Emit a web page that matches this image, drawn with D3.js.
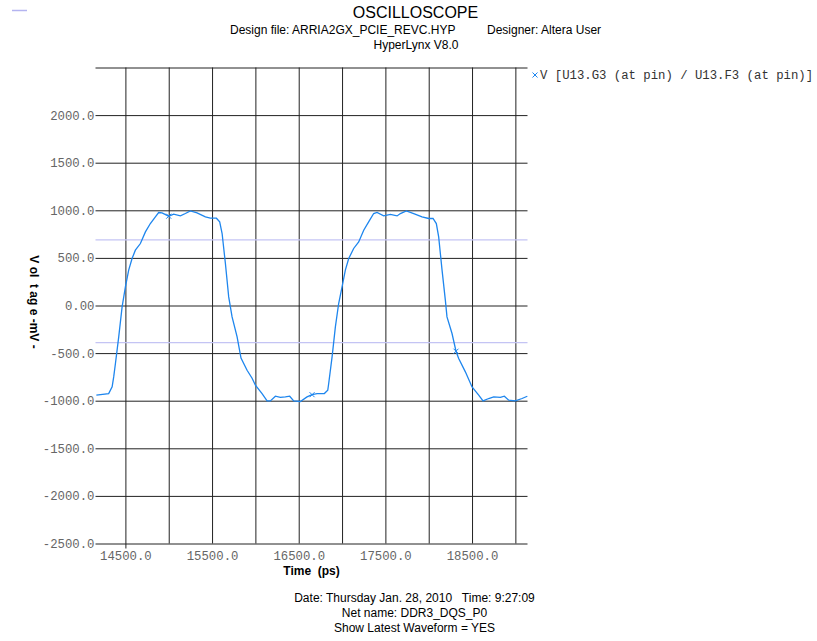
<!DOCTYPE html>
<html>
<head>
<meta charset="utf-8">
<script src="https://cdn.jsdelivr.net/npm/d3@7"></script>
<style>
  body { margin: 0; background: #fff; }
  svg { display: block; font-family: "Liberation Sans", Arial, sans-serif; }
</style>
</head>
<body>
<div id="chart"></div>
<script>
const width = 817;
const height = 641;

// Waveform V [U13.G3 (at pin) / U13.F3 (at pin)]
const timePs = [14165, 14307, 14347, 14365, 14385, 14423, 14462, 14500, 14538, 14577,
  14615, 14673, 14731, 14788, 14846, 14884, 14923, 15000, 15057, 15135,
  15192, 15250, 15327, 15423, 15481, 15550, 15588, 15616, 15654, 15692,
  15731, 15789, 15834, 15904, 15962, 16000, 16077, 16135, 16173, 16231,
  16288, 16346, 16396, 16442, 16519, 16596, 16654, 16712, 16796, 16835,
  16846, 16885, 16923, 16961, 17000, 17038, 17077, 17134, 17192, 17250,
  17307, 17365, 17404, 17480, 17558, 17635, 17673, 17742, 17827, 17923,
  18000, 18050, 18088, 18115, 18154, 18192, 18211, 18269, 18315, 18346,
  18423, 18500, 18577, 18627, 18692, 18750, 18827, 18873, 18923, 19000,
  19077, 19138];
const voltageMv = [-942, -925, -855, -750, -609, -330, -15, 195, 371, 493,
  581, 651, 773, 861, 931, 977, 973, 938, 959, 941,
  966, 994, 973, 931, 917, 917, 878, 756, 441, 90,
  -120, -330, -553, -680, -764, -837, -925, -1002, -1002, -953,
  -966, -960, -953, -1002, -1008, -960, -937, -925, -925, -890,
  -819, -540, -225, 21, 195, 371, 493, 599, 668, 791,
  878, 966, 977, 941, 956, 941, 966, 994, 966, 931,
  914, 914, 861, 721, 371, 56, -120, -294, -480, -557,
  -697, -855, -942, -1002, -977, -960, -966, -953, -995, -1002,
  -977, -953];
const markerIdx = [17, 46, 78];

// threshold lines (mV)
const thresholds = [690, -390];

const yTicks = [-2500, -2000, -1500, -1000, -500, 0, 500, 1000, 1500, 2000, 2500];
const xTicks = [14500, 15000, 15500, 16000, 16500, 17000, 17500, 18000, 18500, 19000];
const xLabelled = [14500, 15500, 16500, 17500, 18500];

const titleLines = ['Design file: ARRIA2GX_PCIE_REVC.HYP', 'Designer: Altera User', 'HyperLynx V8.0'];
const footerLines = ['Date: Thursday Jan. 28, 2010   Time: 9:27:09', 'Net name: DDR3_DQS_P0', 'Show Latest Waveform = YES'];
const legendLabel = 'V [U13.G3 (at pin) / U13.F3 (at pin)]';

const plot = { left: 95.5, right: 527.5, top: 67.5, bottom: 543.5 };
const monoFont = '"Liberation Mono", "Courier New", monospace';
const traceColor = '#1e86ee';

const svg = d3
  .select('#chart')
  .append('svg')
  .attr('width', width)
  .attr('height', height);

const xScale = d3.scaleLinear().domain([14155, 19140]).range([plot.left, plot.right]);
const yScale = d3.scaleLinear().domain([-2500, 2500]).range([plot.bottom, plot.top]);

// horizontal grid + y labels
const yAxis = svg
  .append('g')
  .attr('transform', `translate(${plot.right},0)`)
  .call(
    d3.axisLeft(yScale)
      .tickValues(yTicks)
      .tickSize(plot.right - plot.left)
      .tickPadding(1)
      .tickFormat((d) => (d === 2500 ? '' : d === 0 ? '0.00' : d.toFixed(1)))
  );
yAxis.select('.domain').remove();
yAxis.selectAll('line').attr('stroke', '#222');
yAxis.selectAll('text').attr('fill', '#666').style('font-size', '12.3px').style('font-family', monoFont);

// vertical grid + x labels
const xAxis = svg
  .append('g')
  .attr('transform', `translate(0,${plot.top})`)
  .call(
    d3.axisBottom(xScale)
      .tickValues(xTicks)
      .tickSize(plot.bottom - plot.top)
      .tickPadding(8)
      .tickFormat((d) => (xLabelled.includes(d) ? d.toFixed(1) : ''))
  );
xAxis.select('.domain').remove();
xAxis.selectAll('line').attr('stroke', '#222')
  .attr('y2', (d) => (d === 14500 ? plot.bottom - plot.top + 5 : plot.bottom - plot.top));
xAxis.selectAll('text').attr('fill', '#666').style('font-size', '12.3px').style('font-family', monoFont);

// threshold lines
svg
  .selectAll('.thr')
  .data(thresholds)
  .enter()
  .append('line')
  .attr('x1', plot.left)
  .attr('x2', plot.right)
  .attr('y1', (d) => yScale(d))
  .attr('y2', (d) => yScale(d))
  .attr('stroke', '#c4c4f4')
  .attr('stroke-width', 1.2);

// small threshold key at top left
svg.append('line')
  .attr('x1', 12).attr('x2', 27).attr('y1', 10.5).attr('y2', 10.5)
  .attr('stroke', '#b4b4f0').attr('stroke-width', 1.5);

// waveform
const data = timePs.map((t, i) => ({ t: t, v: voltageMv[i] }));
const line = d3.line().x((d) => xScale(d.t)).y((d) => yScale(d.v));

svg.append('path')
  .datum(data)
  .attr('fill', 'none')
  .attr('stroke', traceColor)
  .attr('stroke-width', 1.3)
  .attr('d', line);

// x markers on the trace
const crossPath = 'M-2.5,-2.5L2.5,2.5M-2.5,2.5L2.5,-2.5';
svg
  .selectAll('.mk')
  .data(markerIdx.map((i) => data[i]))
  .enter()
  .append('path')
  .attr('transform', (d) => `translate(${xScale(d.t)},${yScale(d.v)})`)
  .attr('d', crossPath)
  .attr('stroke', traceColor)
  .attr('stroke-width', 1);

// legend
svg.append('path')
  .attr('transform', 'translate(535,75)')
  .attr('d', crossPath)
  .attr('stroke', traceColor);
svg.append('text')
  .attr('x', 540)
  .attr('y', 79)
  .style('font-family', monoFont)
  .style('font-size', '12.3px')
  .attr('fill', '#333')
  .text(legendLabel);

// titles
svg.append('text')
  .attr('x', 415.5).attr('y', 18)
  .attr('text-anchor', 'middle')
  .style('font-size', '16px')
  .text('OSCILLOSCOPE');
svg.append('text')
  .attr('x', 230).attr('y', 34)
  .style('font-size', '12px')
  .text(titleLines[0]);
svg.append('text')
  .attr('x', 487).attr('y', 34)
  .style('font-size', '12px')
  .text(titleLines[1]);
svg.append('text')
  .attr('x', 416).attr('y', 49)
  .attr('text-anchor', 'middle')
  .style('font-size', '12px')
  .text(titleLines[2]);

// axis titles
svg.append('text')
  .attr('x', 311.5).attr('y', 575)
  .attr('text-anchor', 'middle')
  .style('font-size', '12px')
  .style('font-weight', 'bold')
  .style('white-space', 'pre')
  .text('Time  (ps)');

svg.append('text')
  .attr('transform', 'translate(30,302) rotate(90)')
  .attr('text-anchor', 'middle')
  .style('font-size', '12px')
  .style('font-weight', 'bold')
  .style('white-space', 'pre')
  .text('V ol  t ag e -mV -');

// footer
svg
  .selectAll('.foot')
  .data(footerLines)
  .enter()
  .append('text')
  .attr('x', 414.5)
  .attr('y', (d, i) => 602 + i * 15)
  .attr('text-anchor', 'middle')
  .style('font-size', '12px')
  .style('white-space', 'pre')
  .text((d) => d);
</script>
</body>
</html>
